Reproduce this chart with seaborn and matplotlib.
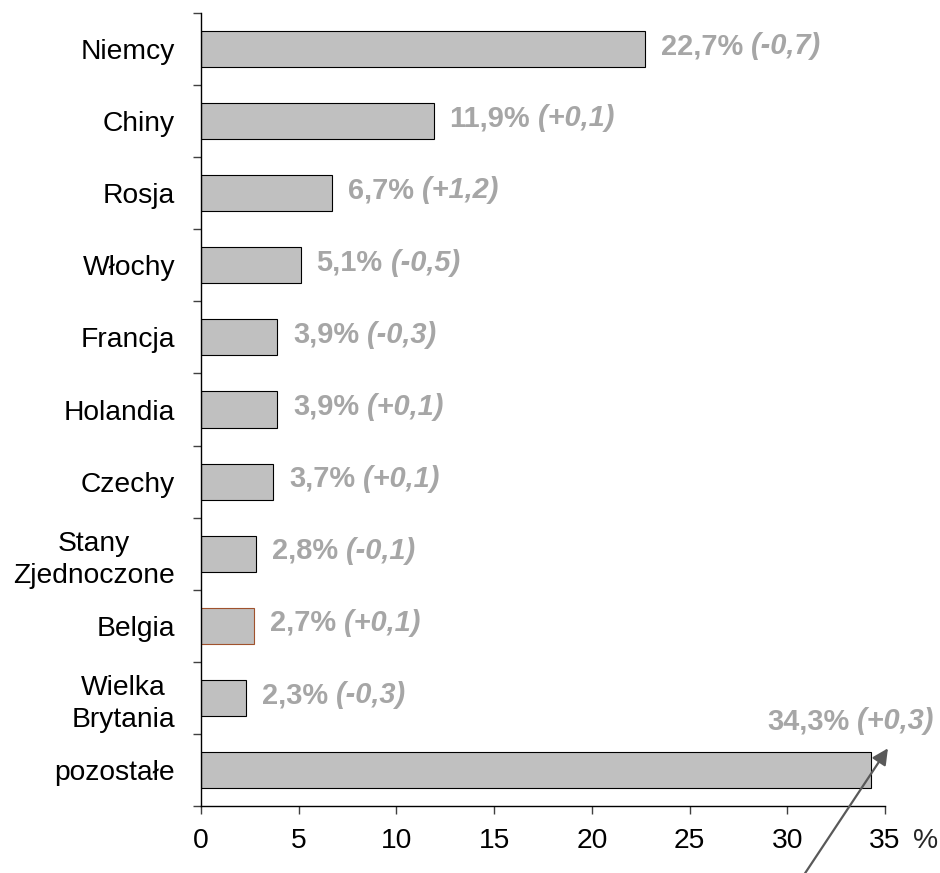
import matplotlib
matplotlib.use("Agg")
import matplotlib.pyplot as plt
import numpy as np
import pandas as pd
import seaborn as sns
from matplotlib.ticker import FixedLocator

# Export partners: share of total exports and change in percentage points
countries = ["Niemcy", "Chiny", "Rosja", "Włochy", "Francja", "Holandia",
             "Czechy", "Stany\nZjednoczone", "Belgia", "Wielka\nBrytania",
             "pozostałe"]
shares = [22.7, 11.9, 6.7, 5.1, 3.9, 3.9, 3.7, 2.8, 2.7, 2.3, 34.3]
share_labels = ["22,7%", "11,9%", "6,7%", "5,1%", "3,9%", "3,9%", "3,7%",
                "2,8%", "2,7%", "2,3%", "34,3%"]
change_labels = ["(-0,7)", "(+0,1)", "(+1,2)", "(-0,5)", "(-0,3)", "(+0,1)",
                 "(+0,1)", "(-0,1)", "(+0,1)", "(-0,3)", "(+0,3)"]
x_ticks = [0, 5, 10, 15, 20, 25, 30, 35]

df = pd.DataFrame({"country": countries, "share": shares})

sns.set_style("ticks")
plt.rcParams["font.family"] = ["Liberation Sans", "DejaVu Sans"]

W, H = 940, 873
fig = plt.figure(figsize=(W / 100, H / 100), dpi=100)
ax = fig.add_axes([201 / W, 67 / H, 684 / W, 793 / H])

sns.barplot(data=df, x="share", y="country", orient="h", color="#C0C0C0",
            saturation=1, width=0.5, edgecolor="black", linewidth=0.8, ax=ax)
ax.patches[countries.index("Belgia")].set_edgecolor("#A0522D")

ax.set_xlim(0, 35)
ax.set_ylim(len(countries) - 0.5, -0.5)
ax.set_xticks(x_ticks)
ax.set_xlabel("")
ax.set_ylabel("")

for side in ("top", "right"):
    ax.spines[side].set_visible(False)
for side in ("left", "bottom"):
    ax.spines[side].set_linewidth(1.0)
    ax.spines[side].set_color("black")

label_size = 20.3
ax.yaxis.set_minor_locator(FixedLocator(np.arange(-0.5, len(countries), 1.0)))
ax.tick_params(axis="y", which="major", left=False, length=0, pad=18.7,
               labelsize=label_size, labelcolor="black")
ax.tick_params(axis="y", which="minor", left=True, length=6, width=1,
               color="#404040")
ax.tick_params(axis="x", which="major", bottom=True, length=6, width=1,
               color="#404040", pad=10, labelsize=label_size, labelcolor="black")
for lbl in ax.get_yticklabels():
    lbl.set_multialignment("center")
    lbl.set_linespacing(1.3)

# % unit next to the last x tick
ax.annotate("%", xy=(1, 0), xycoords="axes fraction", xytext=(20, -16),
            textcoords="offset points", ha="left", va="top", fontsize=label_size)

# Value labels: share in bold, change in bold italic
label_color = "#A6A6A6"
value_size = 20.9
for i, (val, s_lab, c_lab) in enumerate(zip(shares, share_labels, change_labels)):
    if countries[i] == "pozostałe":
        offset = (-75, 35)
    else:
        offset = (11.5, 2)
    t1 = ax.annotate(s_lab, xy=(val, i), xytext=offset, textcoords="offset points",
                     ha="left", va="center", fontsize=value_size, fontweight="bold",
                     color=label_color, annotation_clip=False)
    ax.annotate(" " + c_lab, xy=(1, 0), xycoords=t1, ha="left", va="bottom",
                fontsize=value_size, fontweight="bold", fontstyle="italic",
                color=label_color, annotation_clip=False)

# Arrow pointing at the label of the last category
ax.annotate("", xy=(35.15, 9.7), xytext=(30.5, 11.6),
            arrowprops=dict(arrowstyle="-|>", color="#595959", lw=1.6,
                            mutation_scale=24, shrinkA=0, shrinkB=0),
            annotation_clip=False)

fig.savefig("out.png", dpi=100)
